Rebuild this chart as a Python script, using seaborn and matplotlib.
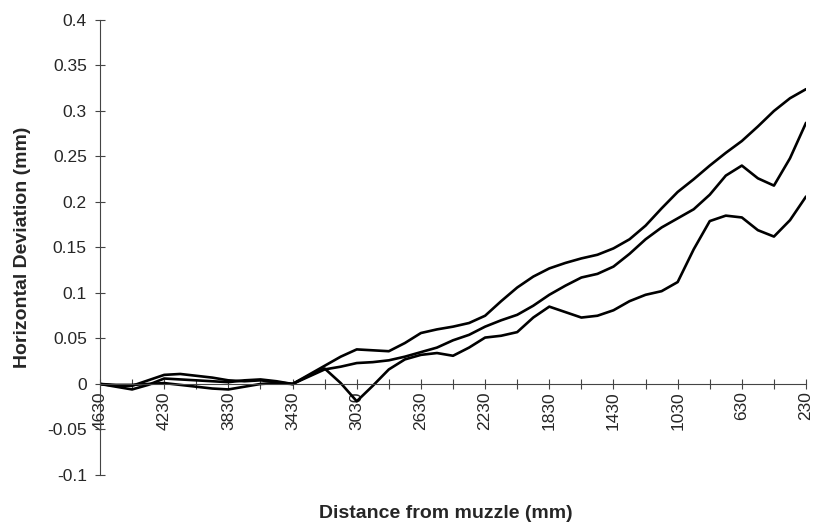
import pandas as pd
import matplotlib
matplotlib.use('Agg')
import matplotlib.pyplot as plt
from matplotlib.ticker import FixedLocator, FuncFormatter
import seaborn as sns

sns.set_style('white')
plt.rcParams['font.family'] = ['Liberation Sans', 'DejaVu Sans']

# distance from muzzle (mm), read every 100 mm
distance = list(range(4630, 229, -100))

dev_a = [0.000, -0.002, -0.002, 0.004, 0.010, 0.011, 0.009, 0.007, 0.004, 0.003, 0.004, 0.002, 0.000,
         0.010, 0.020, 0.030, 0.038, 0.037, 0.036, 0.045, 0.056, 0.060, 0.063, 0.067, 0.075,
         0.091, 0.106, 0.118, 0.127, 0.133, 0.138, 0.142, 0.149, 0.159, 0.174, 0.193, 0.211,
         0.225, 0.240, 0.254, 0.267, 0.283, 0.300, 0.314, 0.324]
dev_b = [0.000, -0.003, -0.006, -0.001, 0.006, 0.005, 0.004, 0.003, 0.002, 0.004, 0.005, 0.003, 0.000,
         0.008, 0.016, 0.019, 0.023, 0.024, 0.026, 0.030, 0.035, 0.040, 0.048, 0.054, 0.063,
         0.070, 0.076, 0.086, 0.098, 0.108, 0.117, 0.121, 0.129, 0.143, 0.159, 0.172, 0.182,
         0.192, 0.208, 0.229, 0.240, 0.226, 0.218, 0.248, 0.287]
dev_c = [0.000, -0.001, -0.001, 0.000, 0.001, -0.001, -0.003, -0.005, -0.006, -0.003, 0.000, 0.001, 0.000,
         0.009, 0.017, 0.001, -0.019, -0.002, 0.016, 0.027, 0.032, 0.034, 0.031, 0.040, 0.051,
         0.053, 0.057, 0.073, 0.085, 0.079, 0.073, 0.075, 0.081, 0.091, 0.098, 0.102, 0.112,
         0.148, 0.179, 0.185, 0.183, 0.169, 0.162, 0.180, 0.206]

label_ticks = list(range(4630, 229, -400))
minor_ticks = list(range(4430, 229, -400))
y_ticks = [-0.1, -0.05, 0, 0.05, 0.1, 0.15, 0.2, 0.25, 0.3, 0.35, 0.4]

df = pd.DataFrame({
    'distance': distance * 3,
    'deviation': dev_a + dev_b + dev_c,
    'run': ['a'] * len(distance) + ['b'] * len(distance) + ['c'] * len(distance),
})

fig = plt.figure(figsize=(8.15, 5.26), dpi=100)
ax = fig.add_axes([0.1227, 0.097, 0.8663, 0.865])
sns.lineplot(data=df, x='distance', y='deviation', hue='run', palette=['black'] * 3,
             linewidth=1.9, legend=False, ax=ax)
for ln in ax.lines:
    ln.set_solid_joinstyle('round')

ax.set_xlim(4630, 230)
ax.set_ylim(-0.1, 0.4)

ax.spines['top'].set_visible(False)
ax.spines['right'].set_visible(False)
ax.spines['bottom'].set_position(('data', 0))
for side in ['left', 'bottom']:
    ax.spines[side].set_color('#444444')
    ax.spines[side].set_linewidth(0.8)

ax.xaxis.set_major_locator(FixedLocator(label_ticks))
ax.xaxis.set_minor_locator(FixedLocator(minor_ticks))
ax.yaxis.set_major_locator(FixedLocator(y_ticks))
ax.yaxis.set_major_formatter(FuncFormatter(lambda v, p: '{:g}'.format(round(v, 2))))
ax.tick_params(axis='x', which='both', direction='inout', length=7, width=0.8,
               color='#444444', bottom=True, labelsize=12.5, labelrotation=90, pad=2)
ax.tick_params(axis='y', which='major', direction='inout', length=7, width=0.8,
               color='#444444', left=True, labelsize=12.5, pad=6)

ax.set_xlabel('Distance from muzzle (mm)', fontsize=14, fontweight='bold')
ax.set_ylabel('Horizontal Deviation (mm)', fontsize=14, fontweight='bold')
ax.xaxis.set_label_coords(0.49, -0.066)
ax.yaxis.set_label_coords(-0.098, 0.5)

fig.savefig('out.png', dpi=100)
